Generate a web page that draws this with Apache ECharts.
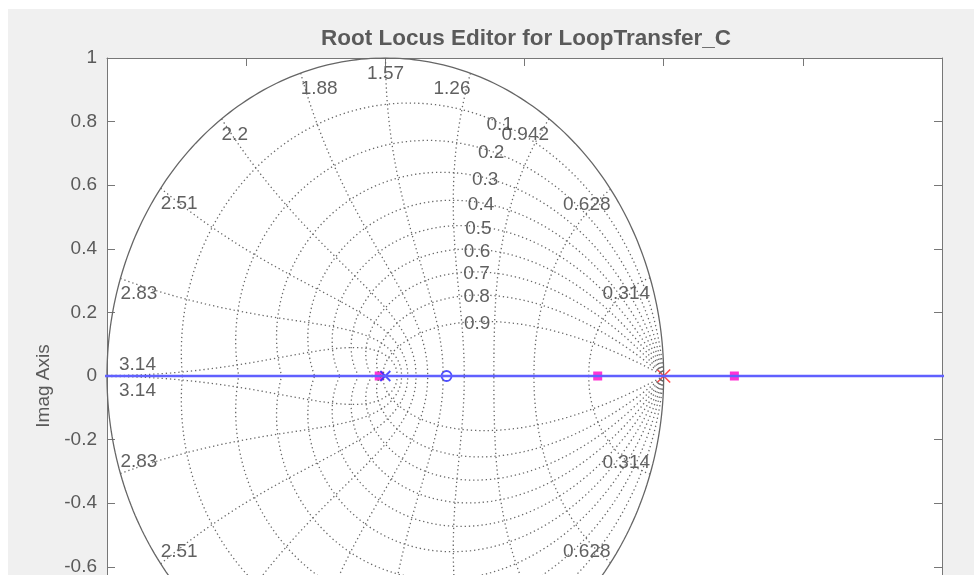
<!DOCTYPE html>
<html>
<head>
<meta charset="utf-8">
<script src="https://cdn.jsdelivr.net/npm/echarts@6/dist/echarts.min.js"></script>
<style>
  html, body { margin: 0; padding: 0; background: #fff; width: 974px; height: 575px; overflow: hidden; }
  #chart { position: absolute; left: 8px; top: 9px; width: 966px; height: 760px; }
</style>
</head>
<body>
<div id="chart"></div>
<script>
// z-plane grid values (sample time 1)
const zetaValues = [0.1, 0.2, 0.3, 0.4, 0.5, 0.6, 0.7, 0.8, 0.9];
const wnValues = [0.314, 0.628, 0.942, 1.26, 1.57, 1.88, 2.2, 2.51, 2.83, 3.14];
// root locus branch on the real axis (clipped by the axes)
const locusRe = [-1.5, 2.5];
// poles / zeros
const plantPoles = [1];
const compPoles = [0];
const compZeros = [0.22];
const closedLoopPoles = [-0.022, 0.763, 1.254];

const FONT = 'Liberation Sans, Arial, sans-serif';
const AXIS_COLOR = '#777';
const TEXT_COLOR = '#5a5a5a';
const GRID_COLOR = '#676767';
const ZETA_LABEL_WN = 0.35 * Math.PI;

function zetaCurve(z, sign) {
  const a = z / Math.sqrt(1 - z * z);
  const pts = [];
  for (let i = 0; i <= 240; i++) {
    const t = Math.PI * i / 240;
    const r = Math.exp(-a * t);
    pts.push([r * Math.cos(t), sign * r * Math.sin(t)]);
  }
  return pts;
}

function wnCurve(w, sign) {
  const pts = [];
  for (let i = 0; i <= 120; i++) {
    const z = i / 120;
    const r = Math.exp(-z * w);
    const t = w * Math.sqrt(1 - z * z);
    pts.push([r * Math.cos(t), sign * r * Math.sin(t)]);
  }
  return pts;
}

function unitCircle() {
  const pts = [];
  for (let i = 0; i <= 360; i++) {
    const t = 2 * Math.PI * i / 360;
    pts.push([Math.cos(t), Math.sin(t)]);
  }
  return pts;
}

const series = [];
const dotted = { color: GRID_COLOR, width: 1.3, type: [1.3, 2.9] };

zetaValues.forEach(z => {
  [1, -1].forEach(s => {
    series.push({ type: 'line', data: zetaCurve(z, s), showSymbol: false, silent: true, lineStyle: dotted });
  });
});
wnValues.forEach(w => {
  [1, -1].forEach(s => {
    series.push({ type: 'line', data: wnCurve(w, s), showSymbol: false, silent: true, lineStyle: dotted });
  });
});
series.push({ type: 'line', data: unitCircle(), showSymbol: false, silent: true,
  lineStyle: { color: '#666', width: 1.3 } });

// grid labels
const gridLabels = [];
wnValues.forEach(w => {
  [1, -1].forEach(s => {
    const x = Math.cos(w), y = s * Math.sin(w);
    let align = x > 0.05 ? 'right' : (x < -0.05 ? 'left' : 'center');
    let vAlign = s > 0 ? 'top' : 'bottom';
    let off = [0, s > 0 ? 6 : -2];
    if (Math.abs(Math.sin(w)) < 0.01) {
      vAlign = s > 0 ? 'bottom' : 'top';
      off = [12, s > 0 ? -1 : 5];
    }
    gridLabels.push({ name: String(w), value: [x, y],
      label: { align: align, verticalAlign: vAlign, offset: off } });
  });
});
zetaValues.forEach(z => {
  const r = Math.exp(-z * ZETA_LABEL_WN);
  const t = ZETA_LABEL_WN * Math.sqrt(1 - z * z);
  gridLabels.push({ name: String(z), value: [r * Math.cos(t), r * Math.sin(t)],
    label: { align: 'center', verticalAlign: 'middle', offset: [0, 2] } });
});
series.push({
  type: 'scatter', data: gridLabels, symbolSize: 0, silent: true, clip: false,
  label: { show: true, position: 'inside', formatter: p => p.name,
    color: '#383838', fontSize: 19, fontFamily: FONT }
});

// locus
series.push({ type: 'line', data: locusRe.map(x => [x, 0]), showSymbol: false, silent: true,
  lineStyle: { color: '#6060ff', width: 2.6 } });
series.push({ type: 'scatter', data: closedLoopPoles.map(x => [x, 0]), symbol: 'rect', symbolSize: 9,
  itemStyle: { color: '#ff00cc' } });
series.push({ type: 'scatter', data: compPoles.map(x => [x, 0]), symbol: 'path://M0,0L10,10M10,0L0,10',
  symbolSize: 10, itemStyle: { color: 'transparent', borderColor: '#2222ff', borderWidth: 1.8 } });
series.push({ type: 'scatter', data: compZeros.map(x => [x, 0]), symbol: 'circle', symbolSize: 10,
  itemStyle: { color: 'transparent', borderColor: '#2222ff', borderWidth: 1.8 } });
series.push({ type: 'scatter', data: plantPoles.map(x => [x, 0]), symbol: 'path://M0,0L10,10M10,0L0,10',
  symbolSize: 13, itemStyle: { color: 'transparent', borderColor: '#ff2020', borderWidth: 1.6 } });

const tick = { inside: true, length: 8, lineStyle: { color: AXIS_COLOR } };
const line = { show: true, onZero: false, lineStyle: { color: AXIS_COLOR, width: 1 } };
const labelStyle = { color: TEXT_COLOR, fontSize: 19, fontFamily: FONT };

const chart = echarts.init(document.getElementById('chart'));
chart.setOption({
  animation: false,
  backgroundColor: '#f0f0f0',
  title: {
    text: 'Root Locus Editor for LoopTransfer_C',
    left: 513, top: 13, textAlign: 'center',
    textStyle: { fontSize: 22.5, fontWeight: 'bold', color: TEXT_COLOR, fontFamily: FONT }
  },
  grid: { left: 99, top: 49, width: 835, height: 636, show: true, backgroundColor: '#fff', borderWidth: 0 },
  xAxis: [
    { type: 'value', min: -1, max: 2, interval: 0.5, position: 'bottom',
      axisLine: line, axisTick: tick, splitLine: { show: false },
      axisLabel: Object.assign({ formatter: v => String(+v.toFixed(1)) }, labelStyle) },
    { type: 'value', min: -1, max: 2, interval: 0.5, position: 'top',
      axisLine: line, axisTick: tick, splitLine: { show: false }, axisLabel: { show: false } }
  ],
  yAxis: [
    { type: 'value', min: -1, max: 1, interval: 0.2, position: 'left',
      axisLine: line, axisTick: tick, splitLine: { show: false },
      axisLabel: Object.assign({ margin: 10, formatter: v => String(+v.toFixed(1)) }, labelStyle),
      name: 'Imag Axis', nameLocation: 'middle', nameGap: 52,
      nameTextStyle: { color: TEXT_COLOR, fontSize: 19, fontFamily: FONT, padding: [0, 20, 0, 0] } },
    { type: 'value', min: -1, max: 1, interval: 0.2, position: 'right',
      axisLine: line, axisTick: tick, splitLine: { show: false }, axisLabel: { show: false } }
  ],
  series: series
});
</script>
</body>
</html>
